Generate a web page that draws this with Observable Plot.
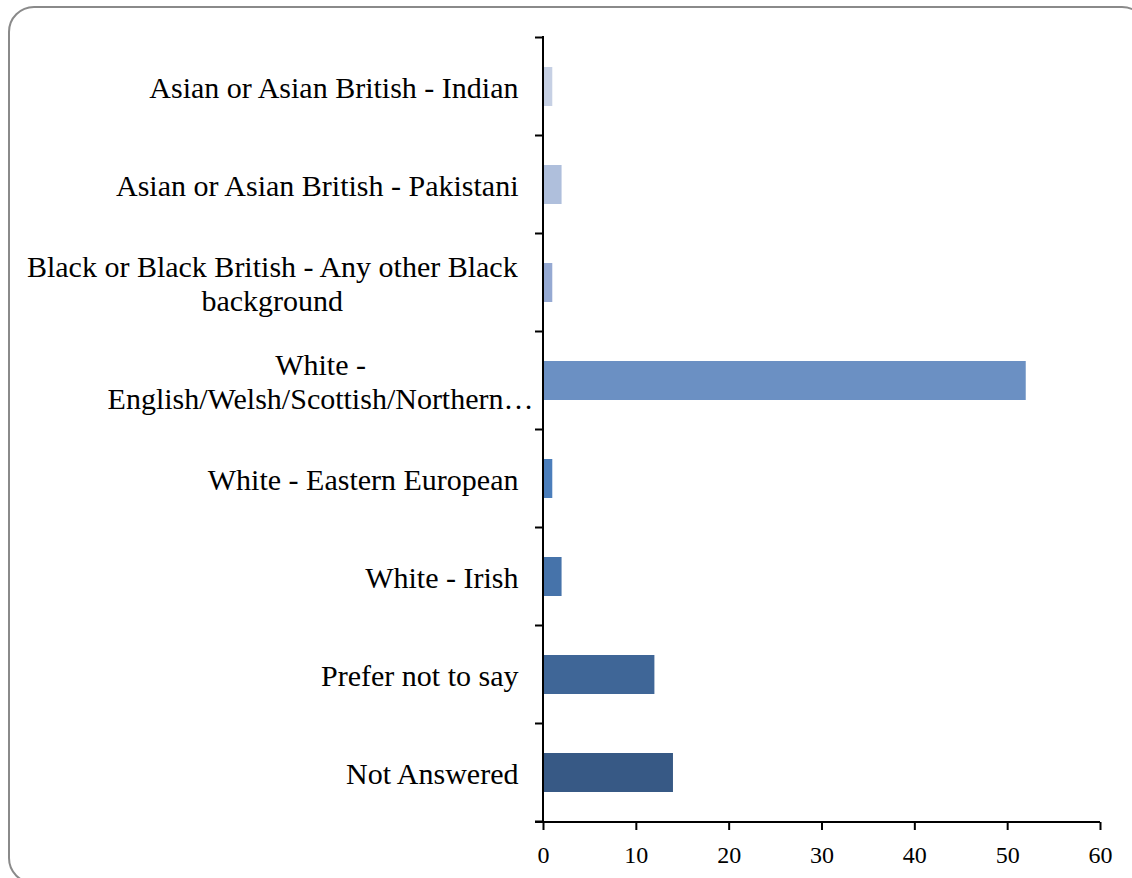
<!DOCTYPE html>
<html>
<head>
<meta charset="utf-8">
<script src="https://cdn.jsdelivr.net/npm/d3@7"></script>
<script src="https://cdn.jsdelivr.net/npm/@observablehq/plot@0.6"></script>
<style>
  html, body { margin: 0; padding: 0; background: #fff; overflow: hidden; }
  #wrap { position: relative; width: 1132px; height: 878px; overflow: hidden; }
  #border { position: absolute; left: 8px; top: 6px; width: 1140px; height: 878px;
            border: 2px solid #8a8a8a; border-radius: 26px; box-sizing: border-box; }
  #chart { position: absolute; left: 0; top: 0; }
</style>
</head>
<body>
<div id="wrap"><div id="border"></div><div id="chart"></div></div>
<script>
const categories = [
  "Asian or Asian British - Indian",
  "Asian or Asian British - Pakistani",
  "Black or Black British - Any other Black background",
  "White - English/Welsh/Scottish/Northern Irish/British",
  "White - Eastern European",
  "White - Irish",
  "Prefer not to say",
  "Not Answered"
];
const labelLines = [
  ["Asian or Asian British - Indian"],
  ["Asian or Asian British - Pakistani"],
  ["Black or Black British - Any other Black", "background"],
  ["White -", "English/Welsh/Scottish/Northern\u2026"],
  ["White - Eastern European"],
  ["White - Irish"],
  ["Prefer not to say"],
  ["Not Answered"]
];
const values = [1, 2, 1, 52, 1, 2, 12, 14];
const palette = ["#c6d0e4", "#afbfdc", "#95a9d2", "#6b90c3", "#4b7ebb", "#4673aa", "#3f6697", "#375985"];
const xTicks = [0, 10, 20, 30, 40, 50, 60];

const data = categories.map((c, i) => ({category: c, value: values[i], color: palette[i], lines: labelLines[i]}));

const FONT = "Liberation Serif";
const LABEL_SIZE = 30;
const ctx = document.createElement("canvas").getContext("2d");
ctx.font = `${LABEL_SIZE}px "${FONT}"`;
const gap = 25;

function boundaryTicks(index, scales, values, dims) {
  const y = scales.y, x = scales.x;
  const step = y.step(), bw = y.bandwidth();
  const g = d3.create("svg:g").attr("stroke", "#000").attr("stroke-width", 2);
  const pos = categories.map(c => y(c) - (step - bw) / 2);
  pos.push(y(categories[categories.length - 1]) + bw + (step - bw) / 2);
  const x0 = x(0);
  for (const p of pos) g.append("line").attr("x1", x0 - 8).attr("x2", x0).attr("y1", p).attr("y2", p);
  const yb = dims.height - dims.marginBottom;
  g.append("line").attr("x1", x0 - 8).attr("x2", x(60)).attr("y1", yb).attr("y2", yb);
  g.append("line").attr("x1", x0).attr("x2", x0).attr("y1", dims.marginTop - 1).attr("y2", yb + 1);
  return g.node();
}

const labelMarks = data.map(d => {
  // width of the text box: the ellipsis of a truncated label hangs outside it
  const w = Math.max(...d.lines.map(l => ctx.measureText(l.replace(/\u2026$/, "")).width));
  const single = d.lines.length === 1;
  return Plot.text([d], {
    y: "category",
    text: dd => dd.lines.join("\n"),
    frameAnchor: "left",
    textAnchor: single ? "end" : "middle",
    dx: single ? -gap : -(gap + w / 2),
    lineAnchor: "middle",
    lineHeight: 1.15,
    fontSize: LABEL_SIZE,
    fill: "#000"
  });
});

const chart = Plot.plot({
  width: 1132,
  height: 878,
  marginLeft: 543,
  marginRight: 32,
  marginTop: 37,
  marginBottom: 56,
  style: {fontFamily: FONT, background: "transparent", color: "#000"},
  x: {domain: [0, 60], ticks: xTicks},
  y: {domain: categories, paddingInner: 0.6, paddingOuter: 0.3},
  marks: [
    Plot.barX(data, {x: "value", y: "category", fill: "color"}),
    Plot.axisX({ticks: xTicks, tickSize: 8, tickPadding: 15, fontSize: 24, strokeWidth: 2, stroke: "#000", fill: "#000", label: null}),
    Plot.axisY({ticks: [], label: null}),
    boundaryTicks,
    ...labelMarks
  ]
});
document.getElementById("chart").appendChild(chart);
</script>
</body>
</html>
